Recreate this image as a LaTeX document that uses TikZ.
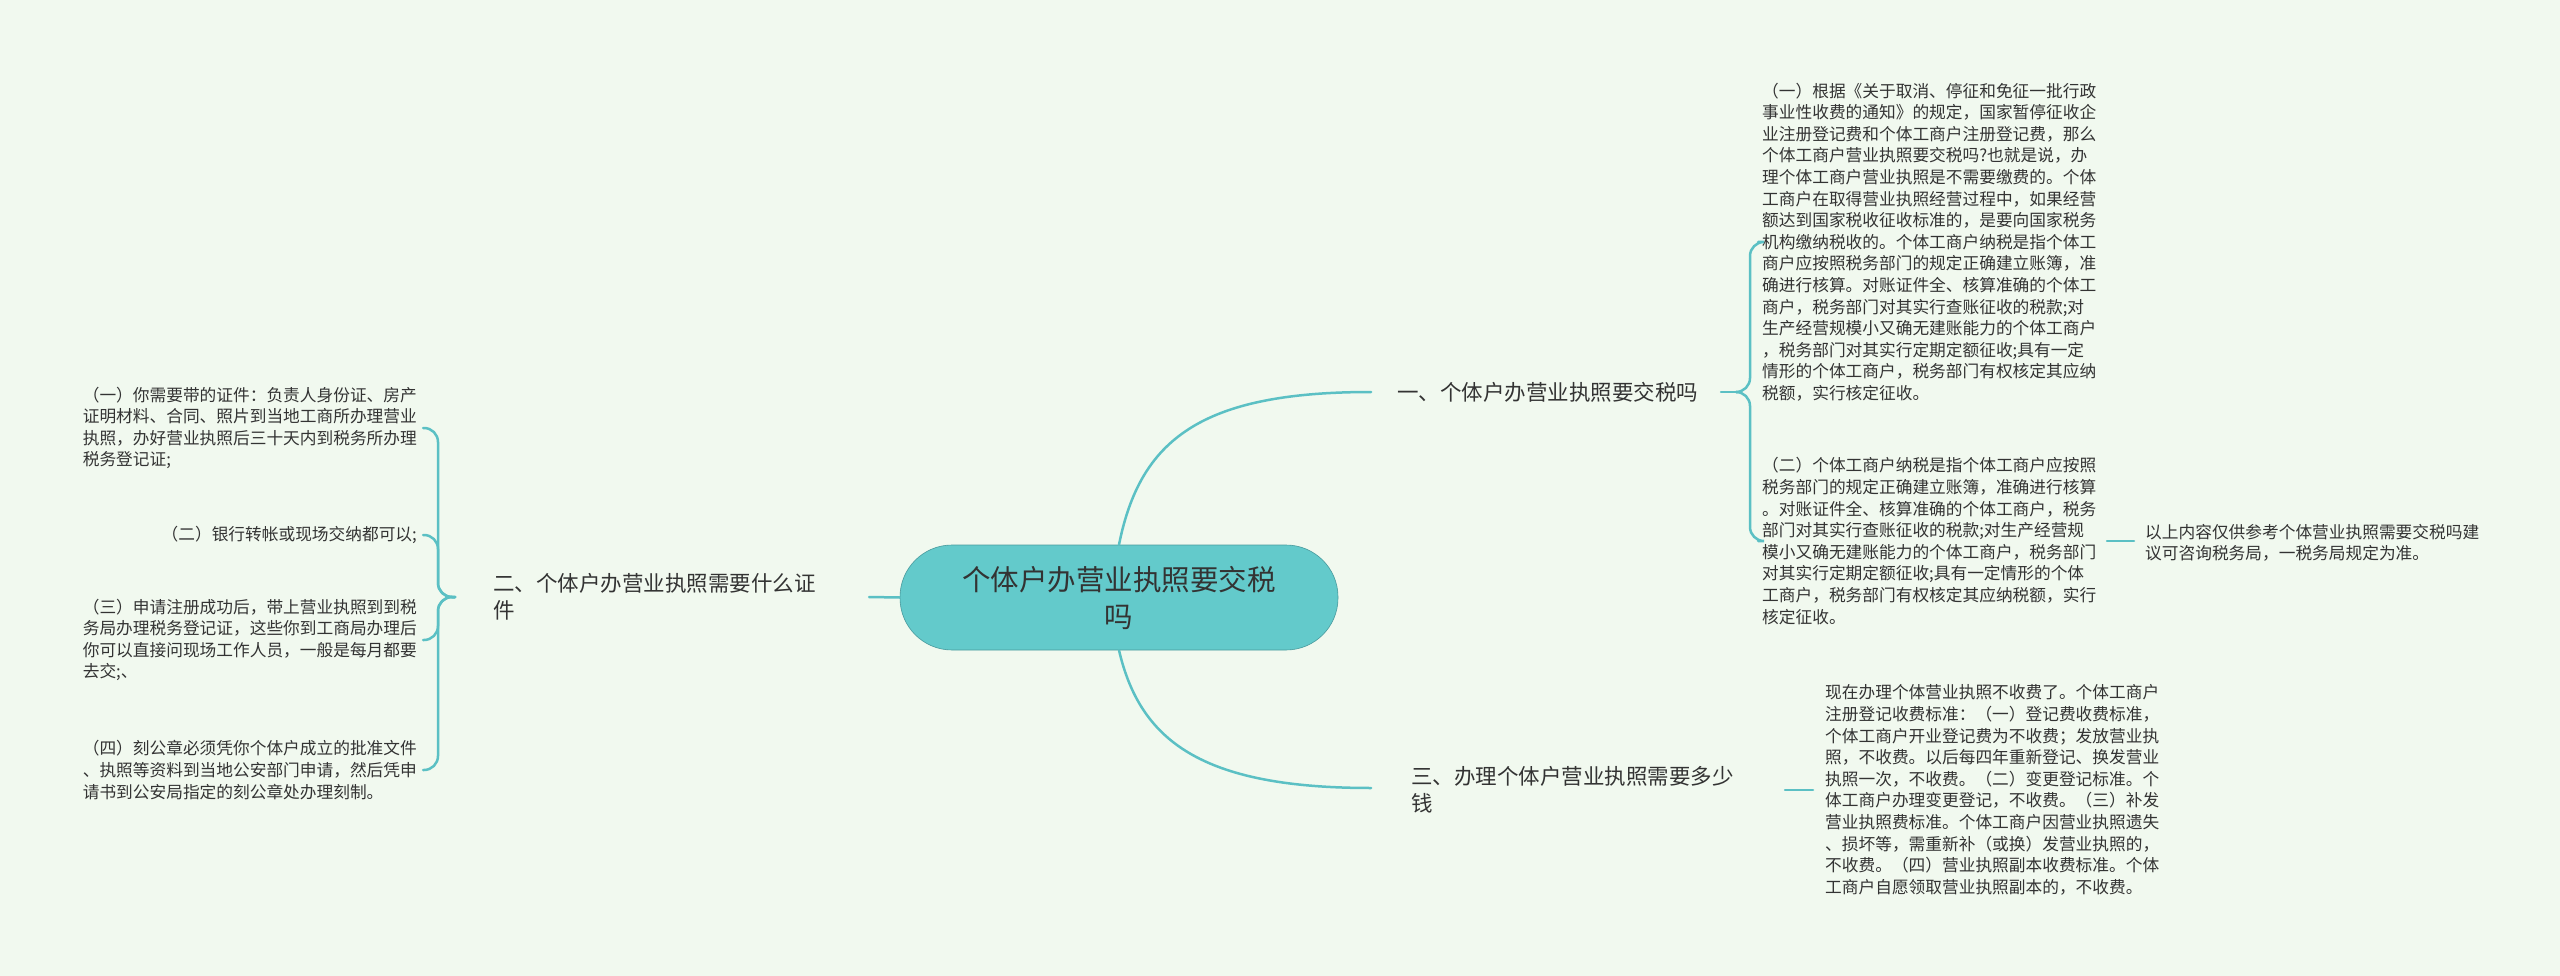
\documentclass[tikz,border=0pt]{standalone}
\usepackage{fontspec}
\setmainfont{Noto Sans CJK SC}
\definecolor{bgc}{HTML}{F1F9EF}
\definecolor{lnc}{HTML}{5BC0C4}
\definecolor{cfill}{HTML}{63CACB}
\definecolor{txc}{HTML}{333333}
\tikzset{
  small/.style={inner sep=0pt,align=left,text=txc,font=\fontsize{16.7}{21.6}\selectfont},
  branch/.style={inner sep=0pt,align=left,text=txc,font=\fontsize{21.5}{27}\selectfont},
  conn/.style={draw=lnc,line width=2.5pt,line cap=round},
  brace/.style={conn,rounded corners=14pt},
}
\begin{document}
\begin{tikzpicture}[x=1pt,y=-1pt]
\fill[bgc] (0,0) rectangle (2560,976);
\useasboundingbox (0,0) rectangle (2560,976);
% center
\node[draw=lnc!80!black,line width=0.6pt,fill=cfill,rounded corners=52pt,minimum width=438pt,minimum height=105pt,text width=330pt,align=center,text=txc,inner sep=0pt,font=\fontsize{28.5}{37}\selectfont] (c) at (1119,597.5) {个体户办营业执照要交税\\吗};
% branch 1
\node[branch,anchor=west] (b1) at (1397,392) {一、个体户办营业执照要交税吗};
\node[small,anchor=west] (r1) at (1762,242) {（一）根据《关于取消、停征和免征一批行政\\事业性收费的通知》的规定，国家暂停征收企\\业注册登记费和个体工商户注册登记费，那么\\个体工商户营业执照要交税吗?也就是说，办\\理个体工商户营业执照是不需要缴费的。个体\\工商户在取得营业执照经营过程中，如果经营\\额达到国家税收征收标准的，是要向国家税务\\机构缴纳税收的。个体工商户纳税是指个体工\\商户应按照税务部门的规定正确建立账簿，准\\确进行核算。对账证件全、核算准确的个体工\\商户，税务部门对其实行查账征收的税款;对\\生产经营规模小又确无建账能力的个体工商户\\，税务部门对其实行定期定额征收;具有一定\\情形的个体工商户，税务部门有权核定其应纳\\税额，实行核定征收。};
\node[small,anchor=west] (r2) at (1762,541) {（二）个体工商户纳税是指个体工商户应按照\\税务部门的规定正确建立账簿，准确进行核算\\。对账证件全、核算准确的个体工商户，税务\\部门对其实行查账征收的税款;对生产经营规\\模小又确无建账能力的个体工商户，税务部门\\对其实行定期定额征收;具有一定情形的个体\\工商户，税务部门有权核定其应纳税额，实行\\核定征收。};
\node[small,anchor=west] (r3) at (2145,543) {以上内容仅供参考个体营业执照需要交税吗建\\议可咨询税务局，一税务局规定为准。};
% branch 3
\node[branch,anchor=west] (b3) at (1411,790) {三、办理个体户营业执照需要多少\\钱};
\node[small,anchor=west] (r4) at (1825,790) {现在办理个体营业执照不收费了。个体工商户\\注册登记收费标准：（一）登记费收费标准，\\个体工商户开业登记费为不收费；发放营业执\\照，不收费。以后每四年重新登记、换发营业\\执照一次，不收费。（二）变更登记标准。个\\体工商户办理变更登记，不收费。（三）补发\\营业执照费标准。个体工商户因营业执照遗失\\、损坏等，需重新补（或换）发营业执照的，\\不收费。（四）营业执照副本收费标准。个体\\工商户自愿领取营业执照副本的，不收费。};
% branch 2
\node[branch,anchor=west] (b2) at (493,597) {二、个体户办营业执照需要什么证\\件};
\node[small,anchor=east] (l1) at (417,428) {（一）你需要带的证件：负责人身份证、房产\\证明材料、合同、照片到当地工商所办理营业\\执照，办好营业执照后三十天内到税务所办理\\税务登记证;};
\node[small,anchor=east] (l2) at (417,535) {（二）银行转帐或现场交纳都可以;};
\node[small,anchor=east] (l3) at (417,640) {（三）申请注册成功后，带上营业执照到到税\\务局办理税务登记证，这些你到工商局办理后\\你可以直接问现场工作人员，一般是每月都要\\去交;、};
\node[small,anchor=east] (l4) at (417,770) {（四）刻公章必须凭你个体户成立的批准文件\\、执照等资料到当地公安部门申请，然后凭申\\请书到公安局指定的刻公章处办理刻制。};
% connectors
\coordinate (s1) at (1371,392);
\coordinate (s3) at (1371,788);
\draw[conn] (c.north) .. controls (1140,440) and (1200,392) .. (s1);
\draw[conn] (c.south) .. controls (1140,740) and (1200,788) .. (s3);
\draw[conn] (c.west) -- (869,597);
\coordinate (e1) at (1738,392);
\draw[conn] (1721,392) -- (e1);
\draw[brace] (e1) -- (1750,392) |- ([xshift=-4pt]r1.west);
\draw[brace] (e1) -- (1750,392) |- ([xshift=-4pt]r2.west);
\draw[conn] (2107,541) -- (2134,541);
\draw[conn] (1785,790) -- (1813,790);
\coordinate (e2) at (455,597);
\draw[brace] (e2) -- (438,597) |- ([xshift=6pt]l1.east);
\draw[brace] (e2) -- (438,597) |- ([xshift=6pt]l2.east);
\draw[brace] (e2) -- (438,597) |- ([xshift=6pt]l3.east);
\draw[brace] (e2) -- (438,597) |- ([xshift=6pt]l4.east);
\end{tikzpicture}
\end{document}
